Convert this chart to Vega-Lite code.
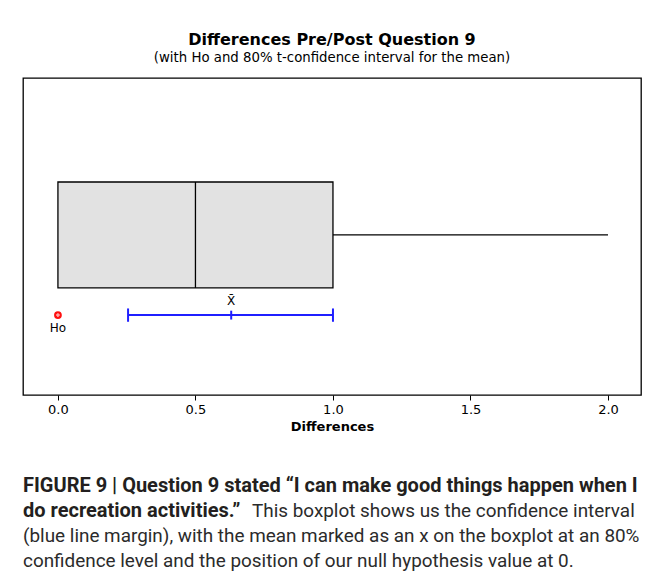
{
  "$schema": "https://vega.github.io/schema/vega-lite/v6.json",
  "background": "white",
  "padding": {"left": 22, "top": 31, "right": 10, "bottom": 0},
  "config": {"view": {"stroke": null}, "concat": {"spacing": 39}},
  "datasets": {
    "stats": [{"q1": 0, "median": 0.5, "q3": 1, "max": 2, "mean": 0.63, "ci_low": 0.255, "ci_high": 1.0, "ho": 0}],
    "caption": [
      {"line": 1, "part": "heading", "text": "FIGURE 9 | Question 9 stated “I can make good things happen when I"},
      {"line": 2, "part": "heading", "text": "do recreation activities.”"},
      {"line": 2, "part": "body-cont", "text": "This boxplot shows us the confidence interval"},
      {"line": 3, "part": "body", "text": "(blue line margin), with the mean marked as an x on the boxplot at an 80%"},
      {"line": 4, "part": "body", "text": "confidence level and the position of our null hypothesis value at 0."}
    ]
  },
  "vconcat": [
    {
      "width": 618,
      "height": 317,
      "title": {
        "text": "Differences Pre/Post Question 9",
        "subtitle": "(with Ho and 80% t-confidence interval for the mean)",
        "font": "DejaVu Sans",
        "fontSize": 16,
        "fontWeight": "bold",
        "color": "black",
        "subtitleFont": "DejaVu Sans",
        "subtitleFontSize": 13.3,
        "subtitleColor": "black",
        "subtitlePadding": 3,
        "offset": 14,
        "anchor": "middle"
      },
      "view": {"stroke": "black", "strokeWidth": 1.3},
      "data": {"name": "stats"},
      "layer": [
        {
          "mark": {"type": "rect", "fill": "#e2e2e2", "stroke": "black", "strokeWidth": 1.3},
          "encoding": {
            "x": {"field": "q1", "type": "quantitative", "scale": {"domain": [-0.127, 2.12], "nice": false, "zero": false},
              "axis": {"title": "Differences", "values": [0, 0.5, 1, 1.5, 2], "format": ".1f", "domain": false, "grid": false,
                "tickSize": 5, "tickColor": "black", "labelColor": "black", "labelFont": "DejaVu Sans", "labelFontSize": 13,
                "labelPadding": 3, "titleFont": "DejaVu Sans", "titleFontSize": 13, "titleFontWeight": "bold", "titleColor": "black", "titlePadding": 4}},
            "x2": {"field": "q3"},
            "y": {"datum": 3.38, "type": "quantitative", "scale": {"domain": [0, 10], "nice": false}, "axis": null},
            "y2": {"datum": 6.72}
          }
        },
        {
          "mark": {"type": "rule", "color": "black", "strokeWidth": 1.3},
          "encoding": {"x": {"field": "median", "type": "quantitative"}, "y": {"datum": 3.38, "type": "quantitative"}, "y2": {"datum": 6.72}}
        },
        {
          "mark": {"type": "rule", "color": "black", "strokeWidth": 1.3},
          "encoding": {"x": {"field": "q3", "type": "quantitative"}, "x2": {"field": "max"}, "y": {"datum": 5.05, "type": "quantitative"}}
        },
        {
          "mark": {"type": "rule", "color": "#1f1fff", "strokeWidth": 2},
          "encoding": {"x": {"field": "ci_low", "type": "quantitative"}, "x2": {"field": "ci_high"}, "y": {"datum": 2.52, "type": "quantitative"}}
        },
        {
          "mark": {"type": "rule", "color": "#1f1fff", "strokeWidth": 2},
          "encoding": {"x": {"field": "ci_low", "type": "quantitative"}, "y": {"datum": 2.31, "type": "quantitative"}, "y2": {"datum": 2.73}}
        },
        {
          "mark": {"type": "rule", "color": "#1f1fff", "strokeWidth": 2},
          "encoding": {"x": {"field": "ci_high", "type": "quantitative"}, "y": {"datum": 2.31, "type": "quantitative"}, "y2": {"datum": 2.73}}
        },
        {
          "mark": {"type": "rule", "color": "#1f1fff", "strokeWidth": 2},
          "encoding": {"x": {"field": "mean", "type": "quantitative"}, "y": {"datum": 2.38, "type": "quantitative"}, "y2": {"datum": 2.66}}
        },
        {
          "mark": {"type": "text", "font": "DejaVu Sans", "fontSize": 12, "color": "black", "baseline": "middle"},
          "encoding": {"x": {"field": "mean", "type": "quantitative"}, "y": {"datum": 2.95, "type": "quantitative"}, "text": {"value": "X̄"}}
        },
        {
          "mark": {"type": "point", "shape": "circle", "filled": true, "color": "#ff1010", "size": 60, "opacity": 1},
          "encoding": {"x": {"field": "ho", "type": "quantitative"}, "y": {"datum": 2.52, "type": "quantitative"}}
        },
        {
          "mark": {"type": "point", "shape": "cross", "filled": true, "color": "#ffb0b0", "size": 14, "opacity": 1},
          "encoding": {"x": {"field": "ho", "type": "quantitative"}, "y": {"datum": 2.52, "type": "quantitative"}}
        },
        {
          "mark": {"type": "text", "font": "DejaVu Sans", "fontSize": 12, "color": "black", "baseline": "middle"},
          "encoding": {"x": {"field": "ho", "type": "quantitative"}, "y": {"datum": 2.1, "type": "quantitative"}, "text": {"value": "Ho"}}
        }
      ]
    },
    {
      "width": 618,
      "height": 100,
      "data": {"name": "caption"},
      "encoding": {
        "y": {"field": "line", "type": "ordinal", "axis": null, "scale": {"paddingInner": 0, "paddingOuter": 0}},
        "x": {"value": 0},
        "text": {"field": "text"}
      },
      "layer": [
        {
          "transform": [{"filter": "datum.part === 'heading'"}],
          "mark": {"type": "text", "align": "left", "baseline": "middle", "font": "Roboto", "fontSize": 20, "fontWeight": "bold", "color": "#231f20"}
        },
        {
          "transform": [{"filter": "datum.part === 'body'"}],
          "mark": {"type": "text", "align": "left", "baseline": "middle", "font": "Roboto", "fontSize": 18.9, "color": "#2b2b2b"}
        },
        {
          "transform": [{"filter": "datum.part === 'body-cont'"}],
          "mark": {"type": "text", "align": "left", "baseline": "middle", "font": "Roboto", "fontSize": 18.9, "color": "#2b2b2b", "dx": 229}
        }
      ]
    }
  ]
}
